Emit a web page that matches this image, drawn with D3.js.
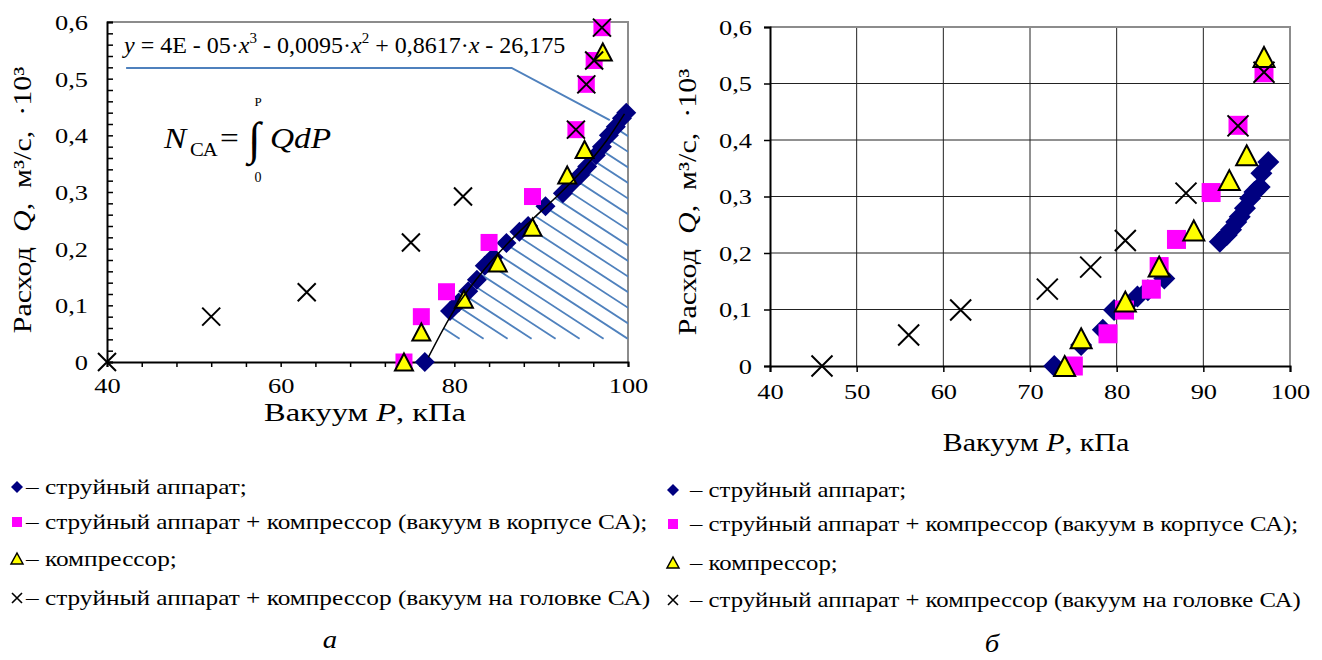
<!DOCTYPE html>
<html><head><meta charset="utf-8">
<script src="https://cdn.jsdelivr.net/npm/d3@7"></script>
<style>
body{margin:0;background:#fff}
svg text{font-family:"Liberation Serif","Tinos","Times New Roman","DejaVu Serif",serif !important;fill:#000}
</style>
</head><body>
<svg id="c" width="1322" height="660" font-family="Liberation Serif"></svg>
<script>
// ---------- DATA (P, kPa ; Q, m3/s ·10^3) ----------
// Panel а
const aJet = [[76.6,0],[79.5,0.09],[80.5,0.105],[81.6,0.125],[82.6,0.145],[83.5,0.17],[84.5,0.185],[86.0,0.21],[87.5,0.23],[88.5,0.24],[90.5,0.275],[92.5,0.298],[93.5,0.315],[94.5,0.33],[95.3,0.345],[96.3,0.365],[97.0,0.38],[97.8,0.4],[98.6,0.415],[99.3,0.43],[99.8,0.44]];
const aJetComp = [[74.2,0],[76.2,0.08],[79.1,0.124],[84,0.211],[89,0.292],[94,0.41],[95.2,0.49],[96.1,0.532],[97,0.59]];
const aComp = [[74.2,0],[76.2,0.053],[81.1,0.111],[85,0.175],[89,0.238],[93,0.33],[95,0.375],[97.1,0.547]];
const aHead = [[40,0],[52,0.08],[63,0.123],[75,0.211],[81,0.292],[94,0.41],[95.2,0.49],[96.1,0.532],[97,0.59]];
const aTrend = [[77,0.008],[80,0.092],[83,0.155],[86,0.207],[89,0.252],[92,0.295],[95,0.343],[97.5,0.39],[99.6,0.438]];
const aCallout = [[42.2,0.519],[86.6,0.519],[97.9,0.427]];
// Panel б
const bJet = [[72.8,0],[75.9,0.037],[78.4,0.064],[79.7,0.099],[81.1,0.108],[82.4,0.123],[83.6,0.134],[85.5,0.155],[91.9,0.22],[92.7,0.232],[93.2,0.241],[93.8,0.255],[94.2,0.264],[94.8,0.279],[95.4,0.297],[95.9,0.308],[96.5,0.317],[96.7,0.341],[97.5,0.361]];
const bJetComp = [[75,0],[79,0.057],[80.9,0.099],[84,0.136],[84.9,0.176],[86.9,0.224],[90.9,0.307],[94,0.426],[97,0.519]];
const bComp = [[74,0],[75.9,0.049],[81,0.114],[84.9,0.176],[88.9,0.24],[93,0.329],[95,0.373],[97,0.547]];
const bHead = [[46,0],[56,0.055],[62,0.099],[72,0.136],[77,0.175],[81,0.222],[88,0.306],[94,0.425],[97,0.52]];

const xDomain = [40,100];
const yDomain = [0,0.6];
const yTicks = [0,0.1,0.2,0.3,0.4,0.5,0.6];
const aXTicks = [40,60,80,100];
const aXMinor = [40,44,48,52,56,60,64,68,72,76,80,84,88,92,96,100];
const aYMinor = [0,0.02,0.04,0.06,0.08,0.1,0.12,0.14,0.16,0.18,0.2,0.22,0.24,0.26,0.28,0.3,0.32,0.34,0.36,0.38,0.4,0.42,0.44,0.46,0.48,0.5,0.52,0.54,0.56,0.58,0.6];
const bXTicks = [40,50,60,70,80,90,100];

const legendLabels = ["– струйный аппарат;","– струйный аппарат + компрессор (вакуум в корпусе СА);","– компрессор;","– струйный аппарат + компрессор (вакуум на головке СА)"];
const xTitle = ["Вакуум ","P",", кПа"];
const captions = ["а","б"];
const equation = [["y",1,0],[" = 4E - 05·",0,0],["x",1,0],["3",0,1],[" - 0,0095·",0,0],["x",1,0],["2",0,1],[" + 0,8617·",0,0],["x",1,0],[" - 26,175",0,0]];

// ---------- DRAW ----------
const svg = d3.select("#c");
const fmt = d => String(d).replace(".", ",");
const NAVY="#000080", MAG="#FF00FF", YEL="#FFFF00", HATCH="#4F81BD";

// horizontal stretch of text around its anchor (the reference type is set wide)
function stretch(sel, sx, pre){
  sel.each(function(){
    const t = d3.select(this);
    const x = +t.attr("x")||0, y = +t.attr("y")||0;
    t.attr("transform",`${pre||""} translate(${x},${y}) scale(${sx},1)`).attr("x",0).attr("y",0);
  });
}

function markers(g, x, y, data, kind, s){
  const sel = g.append("g").selectAll("path").data(data).join("path")
    .attr("transform", d=>`translate(${x(d[0])},${y(d[1])})`);
  if(kind==="diamond"){
    sel.attr("d", `M0,${-s}L${s},0L0,${s}L${-s},0Z`).attr("fill",NAVY);
  } else if(kind==="square"){
    sel.attr("d", `M${-s},${-s}H${s}V${s}H${-s}Z`).attr("fill",MAG);
  } else if(kind==="tri"){
    const w=s, h=s*0.95;
    sel.attr("d", `M0,${-h}L${w},${h}L${-w},${h}Z`).attr("fill",YEL).attr("stroke","#000").attr("stroke-width",2).attr("stroke-linejoin","miter");
  } else {
    sel.attr("d", `M${-s},${-s}L${s},${s}M${-s},${s}L${s},${-s}`).attr("fill","none").attr("stroke","#000").attr("stroke-width",2);
  }
}

function panel(cfg){
  const x = d3.scaleLinear().domain(xDomain).range([cfg.x0,cfg.x1]);
  const y = d3.scaleLinear().domain(yDomain).range([cfg.y0,cfg.y1]);
  const g = svg.append("g");

  if(cfg.grid){
    g.append("g").selectAll("line").data(bXTicks.slice(1,-1)).join("line")
      .attr("x1",d=>x(d)).attr("x2",d=>x(d)).attr("y1",cfg.y0).attr("y2",cfg.y1)
      .attr("stroke","#222").attr("stroke-width",1);
    g.append("g").selectAll("line").data(yTicks.slice(1,-1)).join("line")
      .attr("y1",d=>y(d)).attr("y2",d=>y(d)).attr("x1",cfg.x0).attr("x2",cfg.x1)
      .attr("stroke","#222").attr("stroke-width",1);
  }
  g.append("path").attr("d",`M${cfg.x0},${cfg.y1}H${cfg.x1}V${cfg.y0}`).attr("fill","none").attr("stroke","#8c8c8c").attr("stroke-width",2);

  const xa = g.append("g").attr("transform",`translate(0,${cfg.y0})`)
    .call(d3.axisBottom(x).tickValues(cfg.xMinor).tickSize(cfg.xTickLen).tickFormat(d=>cfg.xTicks.includes(d)?fmt(d):""));
  xa.attr("font-family",null);
  xa.select(".domain").attr("stroke","#000").attr("stroke-width",2);
  xa.selectAll(".tick line").attr("stroke","#000").attr("stroke-width",1.5);
  xa.selectAll(".tick text").attr("font-size",cfg.tickFs).attr("dy",null).attr("y",cfg.xLabY);
  stretch(xa.selectAll(".tick text"), cfg.tickSx);

  const ya = g.append("g").attr("transform",`translate(${cfg.x0},0)`)
    .call(d3.axisLeft(y).tickValues(cfg.yMinor).tickSize(cfg.yTickLen).tickFormat(d=>yTicks.some(t=>Math.abs(t-d)<1e-9)?fmt(d):""));
  ya.attr("font-family",null);
  ya.select(".domain").attr("stroke","#000").attr("stroke-width",2);
  ya.selectAll(".tick line").attr("stroke","#000").attr("stroke-width",1.5);
  ya.selectAll(".tick text").attr("font-size",cfg.tickFs).attr("x",cfg.yLabX).attr("dy","0.34em");
  stretch(ya.selectAll(".tick text"), cfg.tickSx);

  const xt = g.append("text").attr("x",cfg.xTitleX).attr("y",cfg.xTitleY).attr("text-anchor","middle").attr("font-size",cfg.titleFs);
  xTitle.forEach((t,i)=>xt.append("tspan").text(t).attr("font-style",i===1?"italic":"normal"));
  stretch(xt, cfg.xTitleSx);
  const yt = g.append("text").attr("transform",`translate(${cfg.yTitleX},${cfg.yTitleY}) rotate(-90) scale(${cfg.titleSx},1)`)
    .attr("text-anchor","middle").attr("font-size",cfg.titleFs).style("white-space","pre");
  yt.append("tspan").text("Расход  ");
  yt.append("tspan").text("Q").attr("font-style","italic");
  yt.append("tspan").text(",  м³/с,  ·10³");

  return {x,y,g};
}

// ---------------- Panel а ----------------
const A = panel({x0:107,x1:628,y0:362,y1:22,grid:false,xMinor:aXMinor,xTicks:aXTicks,yMinor:aYMinor,
  xTickLen:5,yTickLen:-6,tickFs:22,tickSx:1.2,xLabY:31,yLabX:-19,titleFs:25,titleSx:1.2,xTitleSx:1.3,xTitleX:365,xTitleY:421,yTitleX:31,yTitleY:200});
const clipA = svg.append("clipPath").attr("id","clipA");
clipA.append("path").attr("d", d3.area().x(d=>A.x(d[0])).y0(A.y(0)).y1(d=>A.y(d[1])).curve(d3.curveMonotoneX)(
  aTrend.concat([[100,aTrend[aTrend.length-1][1]]])));
const hatchG = A.g.append("g").attr("clip-path","url(#clipA)");
const slope = 0.65;
hatchG.selectAll("line").data(d3.range(-30,30)).join("line")
  .attr("x1",k=>A.x(76)+k*24).attr("y1",A.y(0.5))
  .attr("x2",k=>A.x(76)+k*24+400).attr("y2",A.y(0.5)+400*slope)
  .attr("stroke",HATCH).attr("stroke-width",1.8);
A.g.append("path").attr("d",d3.line().x(d=>A.x(d[0])).y(d=>A.y(d[1]))(aCallout)).attr("fill","none").attr("stroke",HATCH).attr("stroke-width",2);

markers(A.g,A.x,A.y,aJet,"diamond",10);
markers(A.g,A.x,A.y,aJetComp,"square",8.5);
markers(A.g,A.x,A.y,aComp,"tri",9);
markers(A.g,A.x,A.y,aHead,"cross",9);
A.g.append("path").attr("d",d3.line().x(d=>A.x(d[0])).y(d=>A.y(d[1])).curve(d3.curveMonotoneX)(aTrend))
  .attr("fill","none").attr("stroke","#000").attr("stroke-width",1.5);

const eq = A.g.append("text").attr("x",124).attr("y",53).attr("font-size",24).style("white-space","pre");
let prevSup = false;
equation.forEach(([t,it,sup])=>{
  const ts = eq.append("tspan").text(t);
  if(it) ts.attr("font-style","italic");
  if(sup){ ts.attr("font-size",15).attr("dy",-10); }
  else if(prevSup){ ts.attr("dy",10); }
  prevSup = !!sup;
});
const F = A.g.append("g");
stretch(F.append("text").attr("x",164).attr("y",148).attr("font-size",29).attr("font-style","italic").text("N"), 1.15);
stretch(F.append("text").attr("x",190).attr("y",156).attr("font-size",18).text("СА"), 1.15);
stretch(F.append("text").attr("x",220).attr("y",148).attr("font-size",29).text("="), 1.15);
F.append("text").attr("x",248).attr("y",154).attr("font-size",46).text("∫");
F.append("text").attr("x",258).attr("y",106).attr("font-size",13).attr("text-anchor","middle").text("Р");
F.append("text").attr("x",258).attr("y",182).attr("font-size",14).attr("text-anchor","middle").text("0");
stretch(F.append("text").attr("x",270).attr("y",148).attr("font-size",29).attr("font-style","italic").text("QdP"), 1.15);

// ---------------- Panel б ----------------
const B = panel({x0:770,x1:1290,y0:366,y1:27,grid:true,xMinor:bXTicks,xTicks:bXTicks,yMinor:yTicks,
  xTickLen:6,yTickLen:6,tickFs:22,tickSx:1.2,xLabY:33,yLabX:-18,titleFs:25,titleSx:1.2,xTitleSx:1.2,xTitleX:1036,xTitleY:451,yTitleX:696,yTitleY:202});
markers(B.g,B.x,B.y,bJet,"diamond",11);
markers(B.g,B.x,B.y,bJetComp,"square",9.5);
markers(B.g,B.x,B.y,bComp,"tri",10.5);
markers(B.g,B.x,B.y,bHead,"cross",10.5);

function legend(x0, ys, tx, sx){
  const g = svg.append("g");
  const kinds = ["diamond","square","tri","cross"];
  ys.forEach((yy,i)=>{
    const mk = g.append("path").attr("transform",`translate(${x0},${yy-7})`);
    const k = kinds[i];
    if(k==="diamond") mk.attr("d","M0,-6L6,0L0,6L-6,0Z").attr("fill",NAVY);
    if(k==="square") mk.attr("d","M-5,-5H5V5H-5Z").attr("fill",MAG);
    if(k==="tri") mk.attr("d","M0,-6L6,5L-6,5Z").attr("fill",YEL).attr("stroke","#000").attr("stroke-width",1.5);
    if(k==="cross") mk.attr("d","M-5,-5L5,5M-5,5L5,-5").attr("stroke","#000").attr("stroke-width",1.6);
    stretch(g.append("text").attr("x",tx).attr("y",yy).attr("font-size",22).text(legendLabels[i]), sx);
  });
}
legend(17,[494,529,566,605],26,1.15);
legend(673,[497,531,570,607],690,1.125);
stretch(svg.append("text").attr("x",330).attr("y",648).attr("text-anchor","middle").attr("font-size",25).attr("font-style","italic").text(captions[0]),1.15);
stretch(svg.append("text").attr("x",992).attr("y",652).attr("text-anchor","middle").attr("font-size",25).attr("font-style","italic").text(captions[1]),1.15);
</script>
</body></html>
